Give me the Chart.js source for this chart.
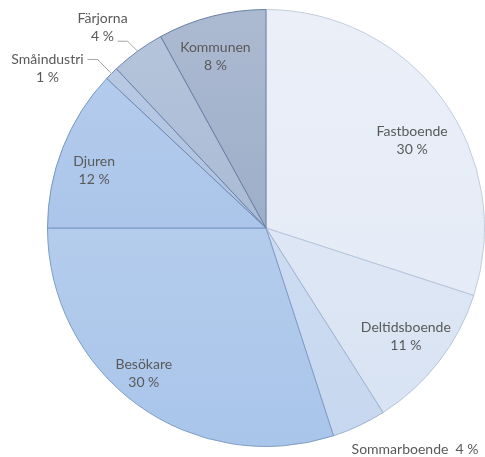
<!DOCTYPE html>
<html>
<head>
<meta charset="utf-8">
<script src="https://cdn.jsdelivr.net/npm/chart.js@4.4.0/dist/chart.umd.min.js"></script>
<style>
    html, body { margin: 0; padding: 0; background: #ffffff; }
    #wrap { width: 485px; height: 457px; }
</style>
</head>
<body>
<div id="wrap"><canvas id="pieChart"></canvas></div>
<script>
// Data
const categories = ["Fastboende", "Deltidsboende", "Sommarboende", "Besökare", "Djuren", "Småindustri", "Färjorna", "Kommunen"];
const shares = [30, 11, 4, 30, 12, 1, 4, 8];

// Styling
const sliceColors = ["#e3eaf6", "#d8e3f3", "#c6d7ef", "#a9c5ea", "#9fbde7", "#a3badb", "#9eb1cf", "#90a3c1"];
const sliceBorders = ["#c3cddd", "#b6c4da", "#9fb2d0", "#7f9cc4", "#7896c2", "#6f89b3", "#6c84ab", "#6a80a4"];

// label placement: inside -> radius factor + angle tweak (deg); outside -> offset from edge point
const labelPlace = [
    { r: 0.78, da: 5 },
    { r: 0.81, da: 0 },
    { out: true, oneLine: true, dx: 56, dy: 24 },
    { r: 0.87, da: 4 },
    { r: 0.83, da: -3 },
    { out: true, dx: -64, dy: -5, lead: [[-24, -14], [-14, -14]] },
    { out: true, dx: -35, dy: -24, lead: [[-20, -10], [-10, -10]] },
    { r: 0.82, da: -2 }
];

const labelFont = "14px Lato";
const labelColor = "#595959";
const lineGap = 18;

// blend a hex colour towards white
function lighten(hex, amt) {
    const n = parseInt(hex.slice(1), 16);
    const r = (n >> 16) & 255, g = (n >> 8) & 255, b = n & 255;
    const f = c => Math.round(c + (255 - c) * amt);
    return "rgb(" + f(r) + "," + f(g) + "," + f(b) + ")";
}

function sliceFill(context) {
    const base = sliceColors[context.dataIndex];
    const area = context.chart.chartArea;
    if (!area) return base;
    const g = context.chart.ctx.createLinearGradient(0, area.top, 0, area.bottom);
    g.addColorStop(0, lighten(base, 0.25));
    g.addColorStop(1, base);
    return g;
}

const pieLabels = {
    id: "pieLabels",
    afterDatasetsDraw(chart) {
        const ctx = chart.ctx;
        const meta = chart.getDatasetMeta(0);
        ctx.save();
        ctx.font = labelFont;
        ctx.fillStyle = labelColor;
        ctx.textAlign = "center";
        ctx.textBaseline = "middle";

        meta.data.forEach(function (arc, i) {
            const p = arc.getProps(["x", "y", "startAngle", "endAngle", "outerRadius"], true);
            const place = labelPlace[i];
            const pct = shares[i] + " %";
            let mid = (p.startAngle + p.endAngle) / 2;

            if (!place.out) {
                mid += place.da * Math.PI / 180;
                const lx = p.x + Math.cos(mid) * p.outerRadius * place.r;
                const ly = p.y + Math.sin(mid) * p.outerRadius * place.r;
                ctx.fillText(categories[i], lx, ly - lineGap / 2);
                ctx.fillText(pct, lx, ly + lineGap / 2);
                return;
            }

            const ex = p.x + Math.cos(mid) * p.outerRadius;
            const ey = p.y + Math.sin(mid) * p.outerRadius;

            if (place.lead) {
                ctx.strokeStyle = "#a6a6a6";
                ctx.lineWidth = 1;
                ctx.beginPath();
                ctx.moveTo(ex + place.lead[0][0], ey + place.lead[0][1]);
                ctx.lineTo(ex + place.lead[1][0], ey + place.lead[1][1]);
                ctx.lineTo(ex, ey);
                ctx.stroke();
            }

            const tx = ex + place.dx;
            const ty = ey + place.dy;
            if (place.oneLine) {
                ctx.fillText(categories[i] + "  " + pct, tx, ty);
            } else {
                ctx.fillText(categories[i], tx, ty - lineGap / 2);
                ctx.fillText(pct, tx, ty + lineGap / 2);
            }
        });
        ctx.restore();
    }
};

const ctx = document.getElementById("pieChart").getContext("2d");

new Chart(ctx, {
    type: "pie",

    data: {
        labels: categories,
        datasets: [{
            data: shares,
            backgroundColor: sliceFill,
            borderColor: sliceBorders,
            borderWidth: 1
        }]
    },

    options: {
        responsive: true,
        maintainAspectRatio: false,
        animation: false,

        layout: {
            padding: { left: 47, right: 0, top: 9, bottom: 10 }
        },

        plugins: {
            legend: { display: false },
            tooltip: { enabled: false }
        }
    },

    plugins: [pieLabels]
});
</script>
</body>
</html>
